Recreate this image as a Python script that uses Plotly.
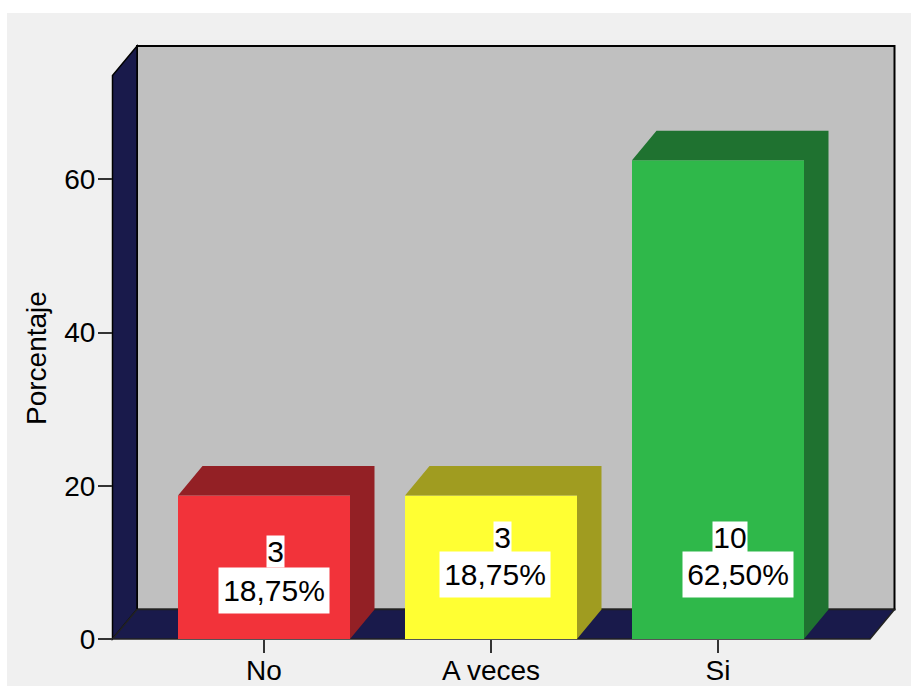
import plotly.graph_objects as go

categories = ["No", "A veces", "Si"]
counts = [3, 3, 10]
percents = [18.75, 18.75, 62.5]
percent_labels = ["18,75%", "18,75%", "62,50%"]
y_ticks = [0, 20, 40, 60]

FRONT = ["#f2333a", "#ffff33", "#2fb84a"]
SIDE = ["#932025", "#a09c20", "#1f7230"]
NAVY = "#191a4b"
WALL = "#c0c0c0"
PANEL = "#f0f0f0"
W, H = 911, 686

# geometry of the pseudo-3D box, in pixels
PX_CAT, X0_PX = 227.0, 264.0
PX_UNIT, Y0_PX = 7.66, 639.0
L_PX, R_PX, T_PX, B_PX = 100, 905, 40, 650
AXIS_X_PX, AXIS_Y_PX = 112.0, 639.0
x_of = lambda px: (px - X0_PX) / PX_CAT
y_of = lambda py: (Y0_PX - py) / PX_UNIT
DX, DY = 24.5 / PX_CAT, 29.5 / PX_UNIT
BAR_W = 172.0 / PX_CAT
FLOOR_L, FLOOR_R = x_of(112.5), x_of(870)
WALL_TOP = y_of(46)
xs = list(range(len(categories)))

# label placement in pixels (the labels are not centred on their bars)
PCT_X_PX = [274, 495, 738]
PCT_Y_PX = [590, 574, 574]
NUM_X_PX = [275, 502, 730]
NUM_Y_PX = [551, 537, 537]


def path(pts):
    return "M " + " L ".join(f"{a},{b}" for a, b in pts) + " Z"


shapes = [
    dict(type="rect", xref="paper", yref="paper", x0=7 / W, x1=1, y0=0, y1=1 - 13 / H,
         fillcolor=PANEL, line_width=0, layer="below"),
    dict(type="path", xref="x", yref="y", layer="below", fillcolor=WALL,
         line=dict(color="black", width=2),
         path=path([(FLOOR_L + DX, DY), (FLOOR_L + DX, WALL_TOP), (FLOOR_R + DX, WALL_TOP), (FLOOR_R + DX, DY)])),
    dict(type="path", xref="x", yref="y", layer="below", fillcolor=NAVY,
         line=dict(color="black", width=1.5),
         path=path([(FLOOR_L, 0), (FLOOR_L, WALL_TOP - DY), (FLOOR_L + DX, WALL_TOP), (FLOOR_L + DX, DY)])),
    dict(type="path", xref="x", yref="y", layer="below", fillcolor=NAVY,
         line=dict(color="#222222", width=1.5),
         path=path([(FLOOR_L, 0), (FLOOR_L + DX, DY), (FLOOR_R + DX, DY), (FLOOR_R, 0)])),
]

fig = go.Figure()
for x, v, c in zip(xs, percents, SIDE):
    a, b = x - BAR_W / 2, x + BAR_W / 2
    fig.add_trace(go.Scatter(
        x=[a, a + DX, b + DX, b + DX, b, b, a],
        y=[v, v + DY, v + DY, DY, 0, v, v],
        mode="lines", fill="toself", fillcolor=c, line=dict(width=0),
        hoverinfo="skip", showlegend=False))
fig.add_trace(go.Bar(x=xs, y=percents, width=BAR_W, marker=dict(color=FRONT, line_width=0),
                     hoverinfo="skip", showlegend=False))

annotations = []
label_font = dict(family="Liberation Sans", size=30, color="black")
for n, p, px, py, nx, ny in zip(counts, percent_labels, PCT_X_PX, PCT_Y_PX, NUM_X_PX, NUM_Y_PX):
    annotations.append(dict(x=x_of(px), y=y_of(py), xref="x", yref="y", text=p, showarrow=False,
                            bgcolor="white", width=110, height=45, borderpad=0, font=label_font))
    annotations.append(dict(x=x_of(nx), y=y_of(ny), xref="x", yref="y", text=str(n), showarrow=False,
                            bgcolor="white", width=34 if n >= 10 else 17, height=31, borderpad=0,
                            font=label_font))
annotations.append(dict(x=36 / W, y=1 - 358 / H, xref="paper", yref="paper", text="Porcentaje",
                        textangle=-90, showarrow=False, xanchor="center", yanchor="middle",
                        font=dict(family="Liberation Sans", size=28, color="black")))

fig.update_layout(
    width=W, height=H, margin=dict(l=0, r=0, t=0, b=0, pad=0), autosize=False,
    paper_bgcolor="white", plot_bgcolor="rgba(0,0,0,0)", showlegend=False, shapes=shapes,
    annotations=annotations,
    xaxis=dict(domain=[L_PX / W, R_PX / W], range=[x_of(L_PX), x_of(R_PX)], automargin=False,
               anchor="free", position=1 - AXIS_Y_PX / H, ticklabelstandoff=-7,
               tickmode="array", tickvals=xs, ticktext=categories, ticks="outside",
               ticklen=13, tickwidth=1.5, tickcolor="#333333",
               tickfont=dict(family="Liberation Sans", size=28, color="black"),
               showgrid=False, zeroline=False, showline=False, fixedrange=True),
    yaxis=dict(domain=[1 - B_PX / H, 1 - T_PX / H], range=[y_of(B_PX), y_of(T_PX)], automargin=False,
               anchor="free", position=AXIS_X_PX / W, ticklabelstandoff=-3,
               tickmode="array", tickvals=y_ticks, ticks="outside", ticklen=14, tickwidth=1.5,
               tickcolor="#333333", tickfont=dict(family="Liberation Sans", size=28, color="black"),
               showgrid=False, zeroline=False, showline=False, fixedrange=True),
)
fig.write_html("out.html", config={"displayModeBar": False},
               post_script="document.body.style.margin='0';")
